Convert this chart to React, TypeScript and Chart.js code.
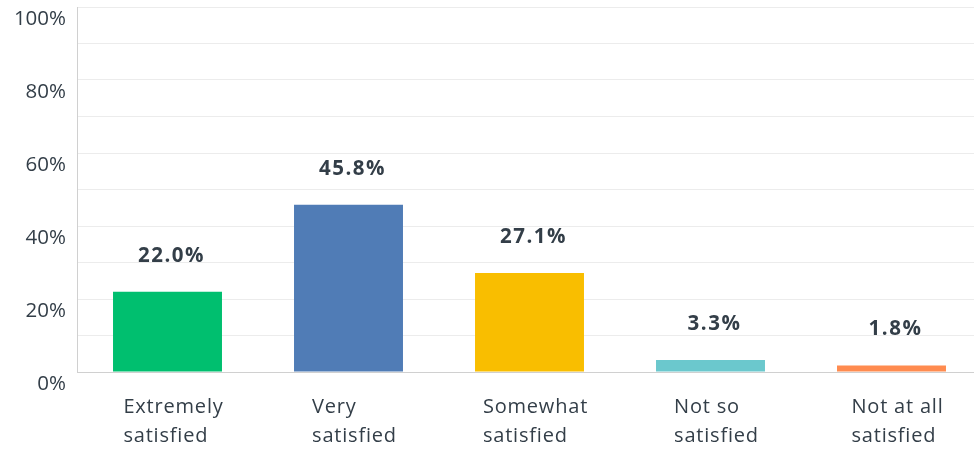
import React, { useEffect, useRef } from "react";
import { Chart, registerables } from "chart.js";

Chart.register(...registerables);

const categories: string[][] = [
  ["Extremely", "satisfied"],
  ["Very", "satisfied"],
  ["Somewhat", "satisfied"],
  ["Not so", "satisfied"],
  ["Not at all", "satisfied"],
];
const values: number[] = [22.0, 45.8, 27.1, 3.3, 1.8];
const barColors: string[] = ["#00bf6f", "#507cb6", "#f9be00", "#6bc8cd", "#ff8b4f"];
const yTicks: number[] = [0, 20, 40, 60, 80, 100];

const FONT = "'Open Sans', 'Noto Sans', sans-serif";
const TEXT = "#333e48";

const labelsPlugin = {
  id: "customLabels",
  afterDraw(chart: any) {
    const ctx = chart.ctx;
    const xs = chart.scales.x;
    const ys = chart.scales.y;
    const meta = chart.getDatasetMeta(0);
    ctx.save();
    // value labels
    ctx.font = `bold 20.5px ${FONT}`;
    (ctx as any).letterSpacing = "1.5px";
    ctx.fillStyle = TEXT;
    ctx.textAlign = "center";
    ctx.textBaseline = "middle";
    meta.data.forEach((bar: any, i: number) => {
      ctx.fillText(values[i].toFixed(1) + "%", bar.x + 4, bar.y - 36);
    });
    // category labels, left aligned block centered
    ctx.font = `20px ${FONT}`;
    (ctx as any).letterSpacing = "0.8px";
    ctx.textAlign = "left";
    ctx.textBaseline = "alphabetic";
    categories.forEach((lines, i) => {
      const cx = xs.getPixelForTick(i);
      const w = Math.max(...lines.map((l) => ctx.measureText(l).width));
      const left = cx - w / 2 + 6;
      lines.forEach((l, j) => {
        ctx.fillText(l, left, ys.bottom + 41 + j * 29);
      });
    });
    ctx.restore();
  },
};

export default function App() {
  const ref = useRef<HTMLCanvasElement | null>(null);
  useEffect(() => {
    if (!ref.current) return;
    const chart = new Chart(ref.current, {
      type: "bar",
      data: {
        labels: categories.map((c) => c.join(" ")),
        datasets: [
          {
            data: values,
            backgroundColor: barColors,
            borderWidth: 0,
            barPercentage: 0.602,
            categoryPercentage: 1,
          },
        ],
      },
      options: {
        animation: false,
        responsive: false,
        maintainAspectRatio: false,
        layout: { padding: { top: 7, left: 0, right: 0, bottom: 0 } },
        plugins: { legend: { display: false }, tooltip: { enabled: false } },
        scales: {
          x: {
            grid: { display: false, drawTicks: false },
            border: { display: true, color: "#d0d0d0", width: 1 },
            ticks: { display: false },
            afterFit: (s: any) => {
              s.height = 79;
              s.paddingLeft = 0;
              s.paddingRight = 0;
            },
          },
          y: {
            min: 0,
            max: 100,
            grid: { color: "#ececec", lineWidth: 1, drawTicks: false },
            border: { display: true, color: "#d0d0d0", width: 1 },
            ticks: {
              stepSize: 10,
              padding: 11,
              labelOffset: 12,
              color: TEXT,
              font: { family: FONT, size: 20.5 },
              callback: (v: any) => (yTicks.includes(Number(v)) ? v + "%" : ""),
            },
            afterFit: (s: any) => {
              s.width = 77;
              s.paddingTop = 0;
              s.paddingBottom = 0;
            },
          },
        },
      },
      plugins: [labelsPlugin],
    });
    return () => chart.destroy();
  }, []);
  return (
    <div
      style={{
        position: "absolute",
        left: 0,
        top: 0,
        width: 974,
        height: 451,
        overflow: "hidden",
        background: "#fff",
      }}
    >
      <canvas ref={ref} width={982} height={451} style={{ display: "block" }} />
    </div>
  );
}
